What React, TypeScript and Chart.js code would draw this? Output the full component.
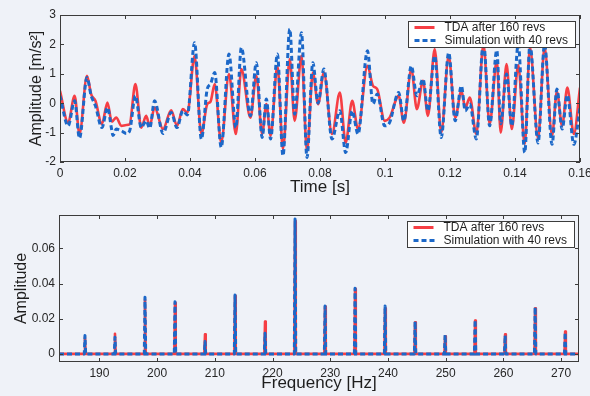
import React, { useEffect, useRef } from "react";
import { Chart, registerables } from "chart.js";

Chart.register(...registerables);

// ---------- Top panel: time signal ----------
const timeMs = [0, 2.5, 4.5, 6.0, 8.3, 9.6, 10.9, 12.9, 14.6, 15.9, 16.3, 17.3, 18.9, 20.4, 21.4, 23.2, 25.0, 26.5, 27.6, 29.1, 31.7, 34.2, 36.0, 37.8, 39.2, 41.4, 43.5, 45.3, 46.3, 47.6, 49.6, 52.0, 54.1, 55.8, 58.6, 60.4, 62.2, 63.5, 64.8, 66.9, 68.6, 70.7, 72.2, 74.3, 76.0, 77.8, 79.4, 81.2, 83.7, 86.1, 87.9, 89.9, 91.7, 94.6, 96.3, 97.6, 99.9, 101.4, 104.2, 105.8, 108.1, 109.8, 111.7, 113.2, 115.3, 117.3, 119.6, 121.6, 123.5, 124.7, 126.1, 128.1, 130.3, 132.2, 134.4, 135.6, 137.4, 139.0, 141.0, 143.0, 144.6, 147.1, 149.1, 151.4, 152.9, 154.5, 156.1, 158.1, 160.0];
const tdaTime = [0.42, -0.66, 0.25, -1.05, 0.93, 0.30, 0.08, -0.71, 0.02, -0.62, -0.60, -0.49, -0.77, -0.74, -0.72, 0.65, -0.83, -0.43, -0.77, -0.15, -0.88, -0.24, -0.77, -0.20, -0.32, 1.60, -1.05, -0.03, 0.05, 0.65, -1.34, 0.99, -1.05, 1.16, -0.49, 0.93, -1.05, -0.03, -1.11, 1.27, -1.56, 1.50, -0.60, 1.61, -1.62, 1.04, -0.03, 1.04, -1.05, 0.36, -1.34, 0.08, -0.88, 1.27, 0.59, 0.48, -0.60, -0.49, 0.25, -0.66, 1.16, -0.20, 0.76, -0.43, 1.84, -1.00, 1.61, -0.49, 0.42, -0.15, 0.19, -1.05, 2.00, -0.71, 1.44, -1.00, 1.33, -0.88, 1.30, -1.39, 1.90, -1.20, 1.90, -1.10, 0.40, -0.77, 0.53, -1.05, 0.53];
const simTime = [0.25, -0.77, 0.08, -1.19, 0.87, 0.25, -0.09, -0.83, -0.15, -0.90, -1.10, -0.88, -0.94, -1.03, -0.95, 0.25, -0.83, -0.60, -0.85, 0.08, -1.03, -0.32, -0.83, -0.26, -0.40, 2.06, -1.22, 0.48, 0.65, 1.04, -1.50, 1.67, -0.83, 1.89, -0.43, 1.38, -1.17, 0.14, -1.22, 1.67, -1.79, 2.52, -0.37, 2.40, -1.85, 1.38, 0.00, 1.16, -1.22, -0.26, -1.68, -0.26, -1.05, 1.78, -0.03, 0.31, -0.77, -0.66, 0.36, -0.60, 1.27, 0.25, 0.82, -0.26, 1.61, -1.17, 1.72, -0.60, 0.59, -0.26, -0.03, -1.22, 2.10, -0.77, 1.80, -0.70, 0.99, -0.77, 2.00, -1.68, 2.00, -1.35, 2.00, -1.40, 0.48, -0.88, 0.28, -1.40, -0.15];
const timeTicks = [0, 0.02, 0.04, 0.06, 0.08, 0.1, 0.12, 0.14, 0.16];
const timeTickLabels = ["0", "0.02", "0.04", "0.06", "0.08", "0.1", "0.12", "0.14", "0.16"];
const ampTicks = [-2, -1, 0, 1, 2, 3];
const ampTickLabels = ["-2", "-1", "0", "1", "2", "3"];
const timeRange = [0, 0.16];
const ampRange = [-2, 3];

// ---------- Bottom panel: spectrum ----------
const peakFreqs = [187.5, 192.7, 197.9, 203.1, 208.3, 213.5, 218.7, 223.9, 229.1, 234.3, 239.5, 244.7, 249.9, 255.1, 260.3, 265.5, 270.7];
const tdaPeaks = [0.0095, 0.0115, 0.031, 0.029, 0.0112, 0.033, 0.0184, 0.0755, 0.027, 0.037, 0.026, 0.018, 0.010, 0.019, 0.0112, 0.026, 0.0127];
const simPeaks = [0.0105, 0.0095, 0.0322, 0.0297, 0.007, 0.0335, 0.0117, 0.0767, 0.0273, 0.0373, 0.0273, 0.0184, 0.0108, 0.0193, 0.0105, 0.0265, 0.0122];
const freqTicks = [190, 200, 210, 220, 230, 240, 250, 260, 270];
const freqTickLabels = ["190", "200", "210", "220", "230", "240", "250", "260", "270"];
const specTicks = [0, 0.02, 0.04, 0.06];
const specTickLabels = ["0", "0.02", "0.04", "0.06"];
const freqRange = [183, 273.1];
const specRange = [-0.0046, 0.079];

const seriesNames = ["TDA after 160 revs", "Simulation with 40 revs"];

const RED = "rgb(246,62,68)";
const BLUE = "rgb(28,104,200)";
const FONT = "'Liberation Sans', Arial, Helvetica, sans-serif";
const BG = "#eff2f8";

function spectrum(amps: number[]) {
  const pts: { x: number; y: number }[] = [{ x: freqRange[0], y: 0 }];
  peakFreqs.forEach((f, i) => {
    pts.push({ x: f - 0.12, y: 0 }, { x: f, y: amps[i] }, { x: f + 0.12, y: 0 });
  });
  pts.push({ x: freqRange[1], y: 0 });
  return pts;
}

const framePlugin = {
  id: "frame",
  afterDatasetsDraw(chart: any, _args: any, o: any) {
    const { ctx, chartArea: a, scales } = chart;
    const xs = scales.x;
    const ys = scales.y;
    ctx.save();
    ctx.strokeStyle = "#3c3c3c";
    ctx.lineWidth = 1;
    ctx.beginPath();
    o.xTicks.forEach((v: number) => {
      const p = Math.round(xs.getPixelForValue(v)) + 0.5;
      ctx.moveTo(p, a.bottom);
      ctx.lineTo(p, a.bottom - 4);
      ctx.moveTo(p, a.top);
      ctx.lineTo(p, a.top + 4);
    });
    o.yTicks.forEach((v: number) => {
      const p = Math.round(ys.getPixelForValue(v)) + 0.5;
      ctx.moveTo(a.left, p);
      ctx.lineTo(a.left + 4, p);
      ctx.moveTo(a.right, p);
      ctx.lineTo(a.right - 4, p);
    });
    ctx.stroke();
    ctx.strokeRect(a.left + 0.5, a.top + 0.5, a.width - 1, a.height - 1);

    // legend box
    const bw = 167;
    const bh = 26;
    const bx = Math.round(a.right - 5 - bw) + 0.5;
    const by = Math.round(a.top + 6) + 0.5;
    ctx.fillStyle = "#ffffff";
    ctx.fillRect(bx, by, bw, bh);
    ctx.strokeStyle = "#3c3c3c";
    ctx.strokeRect(bx, by, bw, bh);
    const r1 = by + 6;
    const r2 = by + 19;
    ctx.lineWidth = 3;
    ctx.strokeStyle = RED;
    ctx.setLineDash([]);
    ctx.beginPath();
    ctx.moveTo(bx + 6, r1);
    ctx.lineTo(bx + 26, r1);
    ctx.stroke();
    ctx.strokeStyle = BLUE;
    ctx.setLineDash([5, 3]);
    ctx.beginPath();
    ctx.moveTo(bx + 6, r2);
    ctx.lineTo(bx + 27, r2);
    ctx.stroke();
    ctx.setLineDash([]);
    ctx.fillStyle = "#1e1e1e";
    ctx.font = `12px ${FONT}`;
    ctx.textBaseline = "middle";
    ctx.textAlign = "left";
    ctx.fillText(seriesNames[0], bx + 36, r1 + 0.5);
    ctx.fillText(seriesNames[1], bx + 36, r2 + 0.5);

    // axis titles
    ctx.fillStyle = "#1e1e1e";
    ctx.font = `17px ${FONT}`;
    ctx.textAlign = "center";
    ctx.textBaseline = "alphabetic";
    ctx.fillText(o.xTitle, (a.left + a.right) / 2, o.xTitleY);
    ctx.save();
    ctx.translate(o.yTitleX, (a.top + a.bottom) / 2);
    ctx.rotate(-Math.PI / 2);
    ctx.font = `16px ${FONT}`;
    ctx.textBaseline = "middle";
    ctx.fillText(o.yTitle, 0, 0);
    ctx.restore();
    ctx.restore();
  },
};

function makeConfig(p: any) {
  const tickFont = { family: FONT, size: 12 };
  return {
    type: "line",
    data: { datasets: p.datasets },
    options: {
      animation: false,
      responsive: false,
      devicePixelRatio: 1,
      layout: { padding: { left: 0, right: p.padRight, top: 15, bottom: 0 } },
      plugins: {
        legend: { display: false },
        tooltip: { enabled: false },
        frame: p.frame,
      },
      elements: { point: { radius: 0 } },
      scales: {
        x: {
          type: "linear",
          min: p.xRange[0],
          max: p.xRange[1],
          grid: { display: false, drawTicks: false },
          border: { display: false },
          ticks: {
            padding: 4,
            color: "#262626",
            font: tickFont,
            autoSkip: false,
            maxRotation: 0,
            callback: (v: number) => {
              const i = p.xTicks.indexOf(v);
              return i >= 0 ? p.xLabels[i] : "";
            },
          },
          afterBuildTicks: (s: any) => {
            s.ticks = p.xTicks.map((v: number) => ({ value: v }));
          },
          afterFit: (s: any) => {
            s.height = p.xHeight;
            s.paddingLeft = 0;
            s.paddingRight = 0;
          },
        },
        y: {
          type: "linear",
          min: p.yRange[0],
          max: p.yRange[1],
          grid: { display: false, drawTicks: false },
          border: { display: false },
          ticks: {
            padding: 4,
            color: "#262626",
            font: tickFont,
            autoSkip: false,
            callback: (v: number) => {
              const i = p.yTicks.indexOf(v);
              return i >= 0 ? p.yLabels[i] : "";
            },
          },
          afterBuildTicks: (s: any) => {
            s.ticks = p.yTicks.map((v: number) => ({ value: v }));
          },
          afterFit: (s: any) => {
            s.width = p.yWidth;
            s.paddingTop = 0;
            s.paddingBottom = 0;
          },
        },
      },
    },
    plugins: [framePlugin],
  };
}

export default function App() {
  const topRef = useRef<HTMLCanvasElement>(null);
  const botRef = useRef<HTMLCanvasElement>(null);

  useEffect(() => {
    const t = timeMs.map((v) => v / 1000);
    const topChart = new Chart(
      topRef.current as HTMLCanvasElement,
      makeConfig({
        datasets: [
          {
            label: seriesNames[1],
            data: t.map((x, i) => ({ x, y: simTime[i] })),
            borderColor: BLUE,
            borderWidth: 3,
            borderDash: [5, 3],
            cubicInterpolationMode: "monotone",
            pointRadius: 0,
            order: 0,
          },
          {
            label: seriesNames[0],
            data: t.map((x, i) => ({ x, y: tdaTime[i] })),
            borderColor: RED,
            borderWidth: 2.6,
            cubicInterpolationMode: "monotone",
            pointRadius: 0,
            order: 1,
          },
        ],
        xRange: timeRange,
        yRange: ampRange,
        xTicks: timeTicks,
        xLabels: timeTickLabels,
        yTicks: ampTicks,
        yLabels: ampTickLabels,
        padRight: 10,
        xHeight: 38,
        yWidth: 60,
        frame: {
          xTicks: timeTicks,
          yTicks: ampTicks,
          xTitle: "Time [s]",
          xTitleY: 192,
          yTitle: "Amplitude [m/s²]",
          yTitleX: 37,
        },
      }) as any
    );
    const botChart = new Chart(
      botRef.current as HTMLCanvasElement,
      makeConfig({
        datasets: [
          {
            label: seriesNames[1],
            data: spectrum(simPeaks),
            borderColor: BLUE,
            borderWidth: 3,
            borderDash: [5, 3],
            borderJoinStyle: "round",
            tension: 0,
            pointRadius: 0,
            order: 0,
          },
          {
            label: seriesNames[0],
            data: spectrum(tdaPeaks),
            borderColor: RED,
            borderWidth: 2.6,
            borderJoinStyle: "round",
            tension: 0,
            pointRadius: 0,
            order: 1,
          },
        ],
        xRange: freqRange,
        yRange: specRange,
        xTicks: freqTicks,
        xLabels: freqTickLabels,
        yTicks: specTicks,
        yLabels: specTickLabels,
        padRight: 11,
        xHeight: 34,
        yWidth: 59,
        frame: {
          xTicks: freqTicks,
          yTicks: specTicks,
          xTitle: "Frequency [Hz]",
          xTitleY: 188,
          yTitle: "Amplitude",
          yTitleX: 22,
        },
      }) as any
    );
    return () => {
      topChart.destroy();
      botChart.destroy();
    };
  }, []);

  return (
    <div
      style={{
        position: "absolute",
        left: 0,
        top: 0,
        width: 590,
        height: 396,
        background: BG,
        overflow: "hidden",
      }}
    >
      <canvas
        ref={topRef}
        width={590}
        height={200}
        style={{ position: "absolute", left: 0, top: 0, width: 590, height: 200 }}
      />
      <canvas
        ref={botRef}
        width={590}
        height={196}
        style={{ position: "absolute", left: 0, top: 200, width: 590, height: 196 }}
      />
    </div>
  );
}
